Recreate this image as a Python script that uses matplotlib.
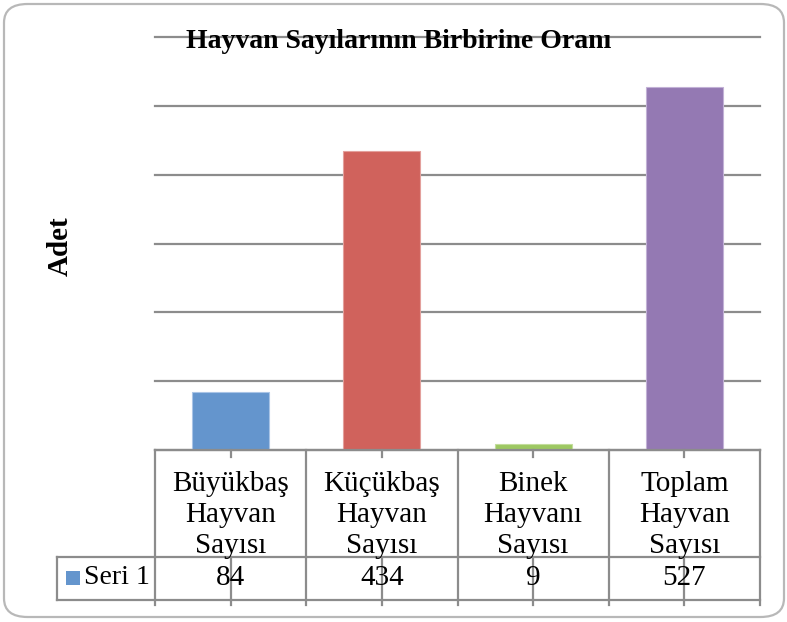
import matplotlib
matplotlib.use("Agg")
import matplotlib.pyplot as plt
from matplotlib.patches import FancyBboxPatch, Rectangle
from matplotlib.transforms import blended_transform_factory
from matplotlib.lines import Line2D

# Data
categories = ["Büyükbaş\nHayvan\nSayısı", "Küçükbaş\nHayvan\nSayısı",
              "Binek\nHayvanı\nSayısı", "Toplam\nHayvan\nSayısı"]
values = [84, 434, 9, 527]
series_name = "Seri 1"
title = "Hayvan Sayılarının Birbirine Oranı"
ylabel = "Adet"
bar_colors = ["#6495CD", "#D0625C", "#9DC862", "#9479B3"]
edge_colors = ["#A9C4E6", "#E3A09C", "#C3DD9C", "#C2B1D6"]

W, H = 787, 622
plt.rcParams["font.family"] = ["Liberation Serif", "DejaVu Serif"]

fig = plt.figure(figsize=(W / 100, H / 100), dpi=100)

def fy(px):
    return 1 - px / H

def fx(px):
    return px / W

# Rounded chart frame
frame = FancyBboxPatch((fx(4), fy(617)), fx(780), (617 - 4) / H,
                       boxstyle="round,pad=0,rounding_size=0.03",
                       transform=fig.transFigure, facecolor="white",
                       edgecolor="#B8B8B8", linewidth=1.6, zorder=-5)
fig.patches.append(frame)

top_px, base_px, left_px, right_px = 37, 450, 155, 760
ax = fig.add_axes([fx(left_px), fy(base_px), fx(right_px - left_px),
                   (base_px - top_px) / H])
ax.set_facecolor("none")
x = list(range(len(values)))
ax.bar(x, values, width=0.51, color=bar_colors, edgecolor=edge_colors,
       linewidth=0.8, zorder=3)
ax.set_xlim(-0.5, len(values) - 0.5)
ax.set_ylim(0, 600)
ax.set_yticks(range(0, 601, 100))
ax.yaxis.grid(True, color="#8C8C8C", linewidth=1.6, zorder=0)
for ln in ax.get_ygridlines():
    ln.set_clip_on(False)
ax.set_axisbelow(True)
for s in ax.spines.values():
    s.set_visible(False)
ax.tick_params(left=False, labelleft=False, bottom=False, labelbottom=False)

# Title and axis label
fig.text(fx(399), fy(42), title, ha="center", va="center", fontsize=20,
         fontweight="bold", zorder=5)
fig.text(fx(60), fy(246), ylabel, ha="center", va="center", fontsize=21,
         fontweight="bold", rotation=90)

# Data table under the axis
tr = blended_transform_factory(ax.transData, fig.transFigure)
gray = "#8C8C8C"
lw = 1.6
row1_px, row2_px = 557, 600
legend_left = -0.5 - (left_px - 57) / ((right_px - left_px) / len(values))
n = len(values)

def hline(x0, x1, ypx):
    fig.add_artist(Line2D([x0, x1], [fy(ypx), fy(ypx)], transform=tr,
                          color=gray, linewidth=lw))

def vline(xd, y0px, y1px):
    fig.add_artist(Line2D([xd, xd], [fy(y0px), fy(y1px)], transform=tr,
                          color=gray, linewidth=lw))

hline(-0.5, n - 0.5, base_px)
hline(legend_left, n - 0.5, row1_px)
hline(legend_left, n - 0.5, row2_px)
vline(legend_left, row1_px, row2_px)
for b in range(n + 1):
    vline(b - 0.5, base_px, 605)
for i in x:
    vline(i, base_px, base_px + 7)
    vline(i, row1_px, 605)

for i, (cat, v) in enumerate(zip(categories, values)):
    fig.text(i, fy(515), cat, transform=tr, ha="center", va="center",
             fontsize=21, linespacing=1.25)
    fig.text(i, fy(578), str(v), transform=tr, ha="center", va="center",
             fontsize=21)

# Legend key inside the table
fig.patches.append(Rectangle((fx(66), fy(585)), fx(14), 14 / H,
                             transform=fig.transFigure,
                             facecolor=bar_colors[0], edgecolor="none"))
fig.text(fx(84), fy(578), series_name, ha="left", va="center", fontsize=20)

fig.savefig("out.png", dpi=100)
